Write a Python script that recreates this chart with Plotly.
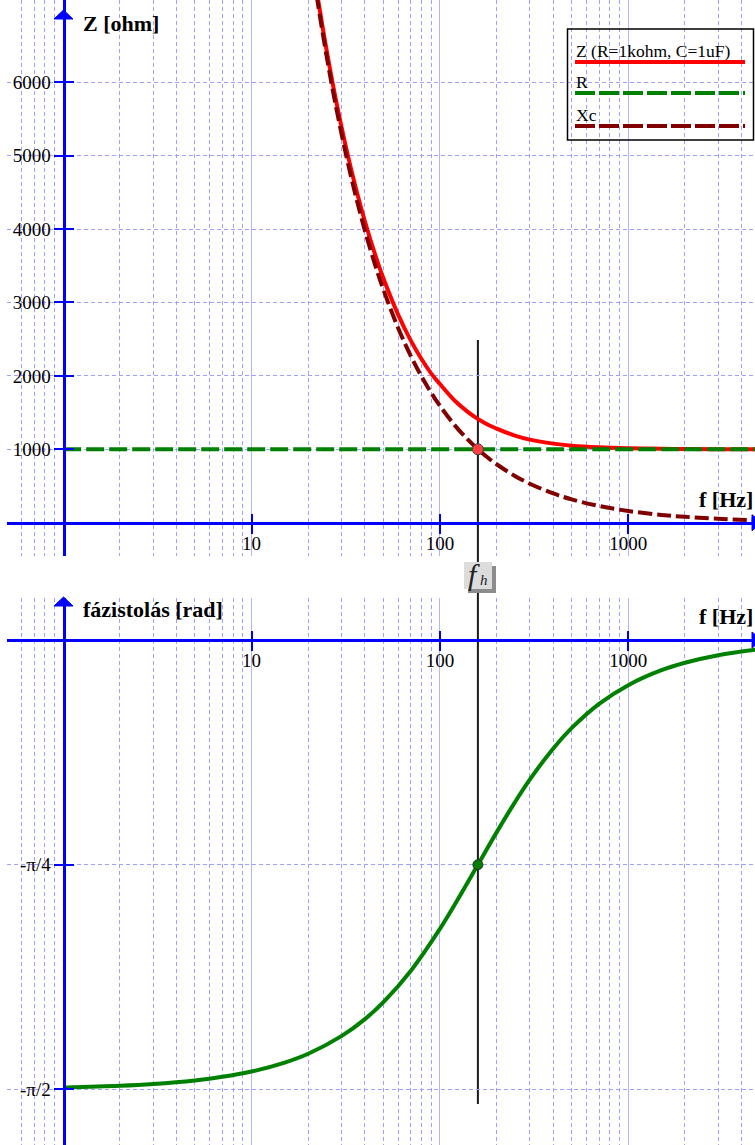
import math
import plotly.graph_objects as go

W, H = 755, 1145

# ---------------- data ----------------
freq_z = [20, 22, 25, 28, 32, 36, 40, 45, 50, 60, 70, 80, 90, 100, 120, 140,
          159, 180, 200, 250, 300, 400, 500, 700, 1000, 1500, 2000, 3000, 5000]
z_ohm = [8021, 7303, 6444, 5771, 5073, 4533, 4103, 3676, 3336, 2835, 2484, 2226,
         2031, 1889, 1661, 1514, 1414, 1334, 1282, 1186, 1132, 1077, 1049, 1026,
         1013, 1006, 1003, 1001, 1001]
xc_ohm = [7958, 7234, 6366, 5684, 4974, 4421, 3979, 3537, 3183, 2653, 2274, 1989,
          1768, 1592, 1326, 1137, 1001, 884, 796, 637, 531, 398, 318, 227, 159,
          106, 80, 53, 32]
freq_r = [1, 5000]
r_ohm = [1000, 1000]

freq_phi = [1, 2, 3, 5, 7, 10, 15, 20, 30, 40, 50, 70, 100, 130, 159, 200, 250,
            300, 400, 500, 700, 1000, 1500, 2000, 3000, 5000]
phi_rad = [-1.5645, -1.5582, -1.5519, -1.5394, -1.5268, -1.5081, -1.4768, -1.4459,
           -1.3845, -1.3249, -1.2664, -1.1566, -1.0099, -0.8856, -0.7859, -0.6723,
           -0.5674, -0.4881, -0.3789, -0.3082, -0.2231, -0.1578, -0.1056, -0.0794,
           -0.0530, -0.0318]

f_h = 159.15
z_point = 1000
phi_point = -math.pi / 4

x_major = [10, 100, 1000]
x_major_text = ["10", "100", "1000"]
x_minor = [0.6, 0.7, 0.8, 0.9, 2, 3, 4, 5, 6, 7, 8, 9, 20, 30, 40, 50, 60, 70, 80,
           90, 200, 300, 400, 500, 600, 700, 800, 900, 2000, 3000, 4000]
z_ticks = [1000, 2000, 3000, 4000, 5000, 6000]
phi_ticks = [-math.pi / 4, -math.pi / 2]
phi_tick_text = ["-π/4", "-π/2"]

# ---------------- styling helpers ----------------
BLUE = "#0000ff"
GRID = "#a0a0ff"
GRID_MAJOR = "#b4b4ff"
SERIF = "Liberation Serif"


def px(x):
    return x / W


def py(y):
    return 1 - y / H


x_range = [-0.301, 3.673]
x_domain = [px(6.5), 1]
y_axis_pos = px(63.5)
top_domain = [py(556), 1]
bot_domain = [0, py(598)]
top_range = [-454, 7121]
bot_range = [-1.765, 0.1468]
top_x_pos = py(522.7)
bot_x_pos = py(640)

fig = go.Figure()

fig.add_trace(go.Scatter(x=freq_z, y=z_ohm, mode="lines", line=dict(color="#ff0000", width=4, shape="spline"),
                         xaxis="x", yaxis="y", hoverinfo="skip"))
fig.add_trace(go.Scatter(x=freq_r, y=r_ohm, mode="lines", line=dict(color="#008000", width=4, dash="18px,5px"),
                         xaxis="x", yaxis="y", hoverinfo="skip"))
fig.add_trace(go.Scatter(x=freq_z, y=xc_ohm, mode="lines",
                         line=dict(color="#800000", width=4, dash="14px,5px", shape="spline"),
                         xaxis="x", yaxis="y", hoverinfo="skip"))
fig.add_trace(go.Scatter(x=[f_h], y=[z_point], mode="markers",
                         marker=dict(size=11, color="#ff4040", line=dict(color="#404040", width=1)),
                         xaxis="x", yaxis="y"))

fig.add_trace(go.Scatter(x=freq_phi, y=phi_rad, mode="lines", line=dict(color="#008000", width=4, shape="spline"),
                         xaxis="x2", yaxis="y2", hoverinfo="skip"))
fig.add_trace(go.Scatter(x=[f_h], y=[phi_point], mode="markers",
                         marker=dict(size=10, color="#008000", line=dict(color="#303030", width=1)),
                         xaxis="x2", yaxis="y2"))

# dummy traces for the inner half of the crossing tick marks
fig.add_trace(go.Scatter(x=[], y=[], xaxis="x3", yaxis="y3"))
fig.add_trace(go.Scatter(x=[], y=[], xaxis="x4", yaxis="y4"))

tickfont = dict(family=SERIF, size=19, color="black")


def x_axis(pos):
    return dict(type="log", range=x_range, domain=x_domain, anchor="free", position=pos,
                tickmode="array", tickvals=x_major, ticktext=x_major_text,
                ticks="outside", ticklen=9, tickwidth=2, tickcolor=BLUE,
                ticklabelstandoff=-7,
                showline=True, linecolor=BLUE, linewidth=3,
                showgrid=True, gridcolor=GRID_MAJOR, gridwidth=1,
                minor=dict(tickmode="array", tickvals=x_minor, showgrid=True, gridcolor=GRID,
                           griddash="4px,3px", gridwidth=1, ticks=""),
                zeroline=False, tickfont=tickfont, fixedrange=True)


def x_overlay(over, pos):
    return dict(type="log", range=x_range, domain=x_domain, anchor="free", position=pos,
                overlaying=over, tickmode="array", tickvals=x_major,
                ticks="inside", ticklen=9, tickwidth=2, tickcolor=BLUE,
                showticklabels=False, showgrid=False, showline=False, zeroline=False)


def y_axis(dom, rng, tv, tt):
    return dict(domain=dom, range=rng, anchor="free", position=y_axis_pos,
                tickmode="array", tickvals=tv, ticktext=tt,
                ticks="outside", ticklen=9, tickwidth=2, tickcolor=BLUE,
                ticklabelstandoff=-1,
                showline=True, linecolor=BLUE, linewidth=3,
                showgrid=True, gridcolor=GRID, griddash="4px,3px", gridwidth=1,
                zeroline=False, tickfont=tickfont, fixedrange=True)


def y_overlay(over, dom, rng, tv):
    return dict(domain=dom, range=rng, anchor="free", position=y_axis_pos, overlaying=over,
                tickmode="array", tickvals=tv, ticks="inside", ticklen=9, tickwidth=2, tickcolor=BLUE,
                showticklabels=False, showgrid=False, showline=False, zeroline=False)


shapes = []
# vertical f_h line through both plots
shapes.append(dict(type="line", xref="x", yref="paper", x0=f_h, x1=f_h, y0=py(1104), y1=py(340),
                   line=dict(color="#1a1a1a", width=2), layer="below"))
# f_h label box with shadow
shapes.append(dict(type="rect", xref="paper", yref="paper", x0=px(468), x1=px(496), y0=py(593), y1=py(566),
                   fillcolor="#8c8c8c", line=dict(width=0), layer="above"))
shapes.append(dict(type="rect", xref="paper", yref="paper", x0=px(464), x1=px(492), y0=py(589), y1=py(562),
                   fillcolor="#dcdcdc", line=dict(width=0), layer="above"))


# axis arrowheads
def tri_up(x, ytip, hw=9.5, h=9):
    return dict(type="path", xref="paper", yref="paper",
                path=f"M {px(x)} {py(ytip)} L {px(x-hw)} {py(ytip+h)} L {px(x+hw)} {py(ytip+h)} Z",
                fillcolor=BLUE, line=dict(color=BLUE, width=1), layer="above")


def tri_right(xtip, y, hw=8, h=10):
    return dict(type="path", xref="paper", yref="paper",
                path=f"M {px(xtip)} {py(y)} L {px(xtip-h)} {py(y-hw)} L {px(xtip-h)} {py(y+hw)} Z",
                fillcolor=BLUE, line=dict(color=BLUE, width=1), layer="above")


shapes += [tri_up(63.5, 10), tri_up(63.5, 597), tri_right(762, 522.7), tri_right(762, 640)]

# legend box (transparent) and legend lines
shapes.append(dict(type="rect", xref="paper", yref="paper", x0=px(567.5), x1=px(753.5), y0=py(140), y1=py(29),
                   line=dict(color="black", width=1.5), fillcolor="rgba(0,0,0,0)", layer="above"))
shapes.append(dict(type="line", xref="paper", yref="paper", x0=px(575), x1=px(745), y0=py(62), y1=py(62),
                   line=dict(color="#ff0000", width=4), layer="above"))
shapes.append(dict(type="line", xref="paper", yref="paper", x0=px(575), x1=px(745), y0=py(93), y1=py(93),
                   line=dict(color="#008000", width=4, dash="20px,4px"), layer="above"))
shapes.append(dict(type="line", xref="paper", yref="paper", x0=px(575), x1=px(745), y0=py(126), y1=py(126),
                   line=dict(color="#800000", width=4, dash="20px,4px"), layer="above"))

bold = dict(family=SERIF, size=22, color="black")
leg_font = dict(family=SERIF, size=17.5, color="black")
annotations = [
    dict(text="<b>Z [ohm]</b>", xref="paper", yref="paper", x=px(81), y=py(23), xanchor="left",
         yanchor="middle", showarrow=False, font=bold),
    dict(text="<b>f [Hz]</b>", xref="paper", yref="paper", x=px(755), y=py(499), xanchor="right",
         yanchor="middle", showarrow=False, font=bold),
    dict(text="<b>fázistolás [rad]</b>", xref="paper", yref="paper", x=px(81), y=py(609), xanchor="left",
         yanchor="middle", showarrow=False, font=bold),
    dict(text="<b>f [Hz]</b>", xref="paper", yref="paper", x=px(755), y=py(617), xanchor="right",
         yanchor="middle", showarrow=False, font=bold),
    dict(text="Z (R=1kohm, C=1uF)", xref="paper", yref="paper", x=px(574), y=py(51), xanchor="left",
         yanchor="middle", showarrow=False, font=leg_font),
    dict(text="R", xref="paper", yref="paper", x=px(574), y=py(82), xanchor="left",
         yanchor="middle", showarrow=False, font=leg_font),
    dict(text="Xc", xref="paper", yref="paper", x=px(574), y=py(115), xanchor="left",
         yanchor="middle", showarrow=False, font=leg_font),
    dict(text="<i>f</i><span style='font-size:15px'><i> h</i></span>", xref="paper", yref="paper",
         x=px(478), y=py(574), xanchor="center", yanchor="middle", showarrow=False,
         font=dict(family=SERIF, size=30, color="#222222")),
]

fig.update_layout(
    width=W, height=H,
    margin=dict(l=0, r=0, t=0, b=0),
    paper_bgcolor="white", plot_bgcolor="rgba(0,0,0,0)",
    showlegend=False,
    xaxis=x_axis(top_x_pos),
    yaxis=y_axis(top_domain, top_range, z_ticks, [str(v) for v in z_ticks]),
    xaxis2=x_axis(bot_x_pos),
    yaxis2=y_axis(bot_domain, bot_range, phi_ticks, phi_tick_text),
    xaxis3=x_overlay("x", top_x_pos),
    yaxis3=y_overlay("y", top_domain, top_range, z_ticks),
    xaxis4=x_overlay("x2", bot_x_pos),
    yaxis4=y_overlay("y2", bot_domain, bot_range, phi_ticks),
    shapes=shapes,
    annotations=annotations,
)

fig.write_html(
    "out.html",
    config={"displayModeBar": False},
    post_script="document.body.style.margin='0';document.body.style.overflow='hidden';",
)
